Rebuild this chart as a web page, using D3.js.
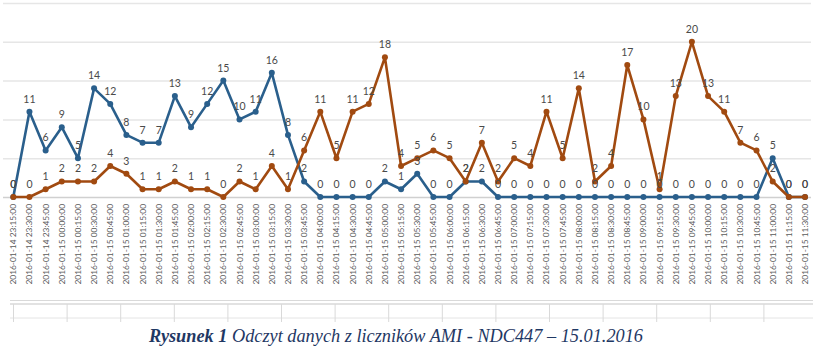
<!DOCTYPE html>
<html>
<head>
<meta charset="utf-8">
<script src="https://cdn.jsdelivr.net/npm/d3@7"></script>
<style>
  body { margin: 0; background: #fff; }
  svg { display: block; }
</style>
</head>
<body>
<script>
// time slots, 15 min apart
var times = ["2016-01-14 23:15:00","2016-01-14 23:30:00","2016-01-14 23:45:00",
  "2016-01-15 00:00:00","2016-01-15 00:15:00","2016-01-15 00:30:00","2016-01-15 00:45:00",
  "2016-01-15 01:00:00","2016-01-15 01:15:00","2016-01-15 01:30:00","2016-01-15 01:45:00",
  "2016-01-15 02:00:00","2016-01-15 02:15:00","2016-01-15 02:30:00","2016-01-15 02:45:00",
  "2016-01-15 03:00:00","2016-01-15 03:15:00","2016-01-15 03:30:00","2016-01-15 03:45:00",
  "2016-01-15 04:00:00","2016-01-15 04:15:00","2016-01-15 04:30:00","2016-01-15 04:45:00",
  "2016-01-15 05:00:00","2016-01-15 05:15:00","2016-01-15 05:30:00","2016-01-15 05:45:00",
  "2016-01-15 06:00:00","2016-01-15 06:15:00","2016-01-15 06:30:00","2016-01-15 06:45:00",
  "2016-01-15 07:00:00","2016-01-15 07:15:00","2016-01-15 07:30:00","2016-01-15 07:45:00",
  "2016-01-15 08:00:00","2016-01-15 08:15:00","2016-01-15 08:30:00","2016-01-15 08:45:00",
  "2016-01-15 09:00:00","2016-01-15 09:15:00","2016-01-15 09:30:00","2016-01-15 09:45:00",
  "2016-01-15 10:00:00","2016-01-15 10:15:00","2016-01-15 10:30:00","2016-01-15 10:45:00",
  "2016-01-15 11:00:00","2016-01-15 11:15:00","2016-01-15 11:30:00"];

var blueVals = [0,11,6,9,5,14,12,8,7,7,13,9,12,15,10,11,16,8,2,0,
  0,0,0,2,1,3,0,0,2,2,0,0,0,0,0,0,0,0,0,0,
  0,0,0,0,0,0,0,5,0,0];

var orangeVals = [0,0,1,2,2,2,4,3,1,1,2,1,1,0,2,1,4,1,6,11,
  5,11,12,18,4,5,6,5,2,7,2,5,4,11,5,14,2,4,17,10,
  1,13,20,13,11,7,6,2,0,0];

var yTicks = [0,5,10,15,20,25];

var width = 829, height = 362;
var svg = d3.select('body').append('svg').attr('width', width).attr('height', height);

var x = d3.scalePoint().domain(times).range([13.3, 805]);
var y = d3.scaleLinear().domain([0, 25]).range([197, 3]);

// gridlines
svg.append('g').selectAll('line').data(yTicks).join('line')
  .attr('x1', 3).attr('x2', 811)
  .attr('y1', function(d){ return y(d) + 0.5; }).attr('y2', function(d){ return y(d) + 0.5; })
  .style('stroke', function(d){ return d === 0 ? '#d0d0d0' : '#e6e6e6'; })
  .style('stroke-width', 1.5);

// x labels
svg.append('g').selectAll('text').data(times).join('text')
  .attr('transform', function(d){ return 'translate(' + (x(d) + 3) + ',204) rotate(-90)'; })
  .attr('text-anchor', 'end')
  .style('font-family', 'Lato, sans-serif')
  .style('font-size', '8.4px')
  .style('fill', '#595959')
  .text(function(d){ return d; });

var series = [
  {vals: blueVals, color: '#2a5f8c'},
  {vals: orangeVals, color: '#a14a10'}
];

var line = d3.line()
  .x(function(d, i){ return x(times[i]); })
  .y(function(d){ return y(d); });

series.forEach(function(s) {
  var g = svg.append('g');
  g.append('path').datum(s.vals).attr('d', line)
    .style('fill', 'none').style('stroke', s.color)
    .style('stroke-width', 2.6).style('stroke-linejoin', 'round');
  g.selectAll('circle').data(s.vals).join('circle')
    .attr('cx', function(d, i){ return x(times[i]); })
    .attr('cy', function(d){ return y(d); })
    .attr('r', 3)
    .style('fill', s.color);
});

series.forEach(function(s) {
  svg.append('g').selectAll('text').data(s.vals).join('text')
    .attr('x', function(d, i){ return x(times[i]); })
    .attr('y', function(d){ return y(d) - 9; })
    .attr('text-anchor', 'middle')
    .style('font-family', 'Lato, sans-serif')
    .style('font-size', '10.5px')
    .style('fill', '#4a4a4a')
    .text(function(d){ return d; });
});

// table lines under the chart
var tbl = svg.append('g').style('stroke', '#d9d9d9');
tbl.append('line').attr('x1', 10).attr('x2', 813).attr('y1', 300.5).attr('y2', 300.5);
tbl.append('line').attr('x1', 10).attr('x2', 813).attr('y1', 304).attr('y2', 304).style('stroke-width', 1.5);
tbl.append('line').attr('x1', 10).attr('x2', 813).attr('y1', 318).attr('y2', 318).style('stroke', '#e4e4e4');
tbl.selectAll('.v').data(d3.range(15)).join('line')
  .attr('x1', function(k){ return 13.5 + k * 53.6; })
  .attr('x2', function(k){ return 13.5 + k * 53.6; })
  .attr('y1', 304).attr('y2', 322);

// caption
var cap = svg.append('text')
  .attr('x', 396).attr('y', 342)
  .attr('text-anchor', 'middle')
  .style('font-family', '"Liberation Serif", serif')
  .style('font-size', '18.3px')
  .style('font-style', 'italic')
  .style('fill', '#1f3864');
cap.append('tspan').style('font-weight', 'bold').text('Rysunek 1');
cap.append('tspan').text(' Odczyt danych z liczników AMI - NDC447 – 15.01.2016');
</script>
</body>
</html>
